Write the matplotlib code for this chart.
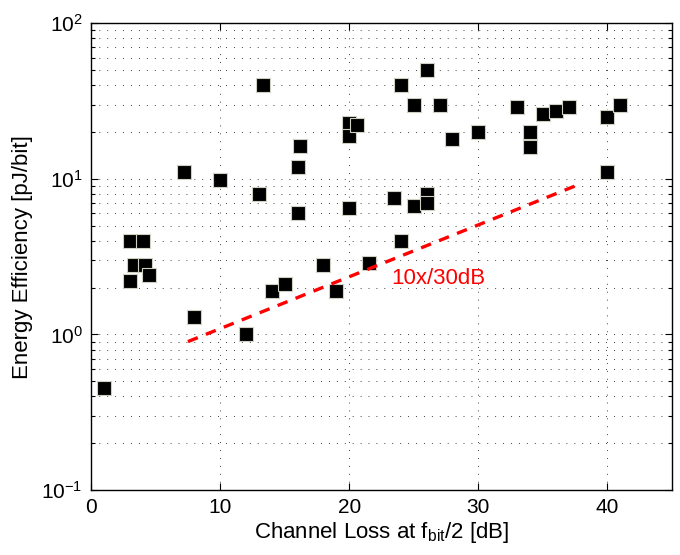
import matplotlib
matplotlib.use("Agg")
import matplotlib.pyplot as plt
import matplotlib.ticker as ticker
import numpy as np

plt.rcParams["font.family"] = ["Liberation Sans", "DejaVu Sans"]
plt.rcParams["mathtext.fontset"] = "custom"
plt.rcParams["mathtext.rm"] = "Liberation Sans"
plt.rcParams["mathtext.it"] = "Liberation Sans"

# --- dati ---
loss_db = [1, 3, 4, 3, 3.3, 4.2, 4.5, 7.2, 10, 8, 13, 13.3, 16, 16.2, 16,
           14, 15, 18, 12, 19, 20, 20, 20.6, 20, 21.5,
           24, 26, 25, 27, 28, 30, 33, 34, 34, 35, 36, 37, 40, 41, 40,
           23.5, 25, 26, 26, 24]
energy_pj = [0.45, 4.0, 4.0, 2.2, 2.8, 2.8, 2.4, 11, 9.9, 1.3, 8.0, 40, 12, 16.2, 6.0,
             1.9, 2.1, 2.8, 1.0, 1.9, 23, 18.8, 22.2, 6.5, 2.9,
             40, 50, 30, 30, 18, 20, 29, 20, 16, 26.3, 27.4, 29, 25, 30, 11,
             7.5, 6.7, 8.0, 7.0, 4.0]

trend_x = [7.5, 37.5]
trend_y = [0.9, 9.0]

fig = plt.figure(figsize=(6.8, 5.55), dpi=100)
ax = fig.add_axes([0.134, 0.117, 0.854, 0.841])

ax.plot(loss_db, energy_pj, ls="none", marker="s", markersize=10.5,
        markerfacecolor="black", markeredgecolor="#cfcfc4", markeredgewidth=0.8,
        zorder=3)
ax.plot(trend_x, trend_y, color="#ff0000", lw=2.4, ls=(0, (3.2, 2.6)), zorder=4)
ax.text(23.25, 2.29, "10x/30dB", color="#ff0000", fontsize=16, va="center", ha="left")

ax.set_yscale("log")
ax.set_xlim(0, 45)
ax.set_ylim(0.1, 100)
ax.set_xticks([0, 10, 20, 30, 40])
ax.yaxis.set_major_locator(ticker.LogLocator(base=10, numticks=10))
ax.yaxis.set_minor_locator(ticker.LogLocator(base=10, subs=np.arange(2, 10), numticks=20))
ax.yaxis.set_minor_formatter(ticker.NullFormatter())

dot = (0, (1, 8.5))
ax.grid(which="major", axis="both", color="black", lw=0.6, ls=dot)
ax.grid(which="minor", axis="y", color="black", lw=0.6, ls=dot)
ax.set_axisbelow(True)

ax.tick_params(which="both", direction="in", top=True, right=True, labelsize=15, width=0.8)
ax.tick_params(which="major", length=5, pad=6)
ax.tick_params(which="minor", length=3)
for s in ax.spines.values():
    s.set_linewidth(1.0)

ax.set_xlabel(r"Channel Loss at f$_{\mathrm{bit}}$/2 [dB]", fontsize=16, labelpad=2)
ax.set_ylabel("Energy Efficiency [pJ/bit]", fontsize=16, labelpad=6)

plt.savefig("out.png", dpi=100)
plt.close()
